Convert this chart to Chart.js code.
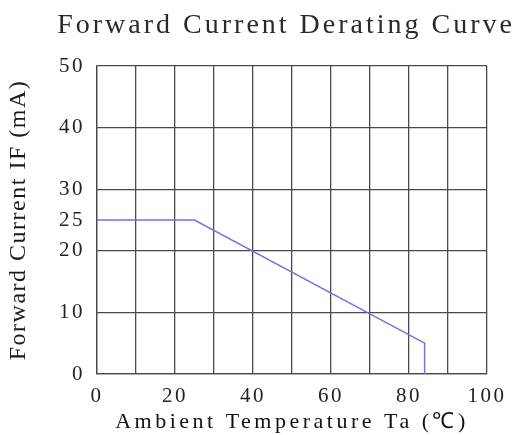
<!DOCTYPE html>
<html>
<head>
<meta charset="utf-8">
<script src="https://cdn.jsdelivr.net/npm/chart.js@4/dist/chart.umd.min.js"></script>
<style>
html,body{margin:0;padding:0;background:#fff;}
canvas{display:block;}
</style>
</head>
<body>
<canvas id="c" width="522" height="435"></canvas>
<script>
const temperatureC = [0, 25, 84, 84];
const currentMA = [25, 25, 5, 0];
const yTickValues = [0, 10, 20, 25, 30, 40, 50];
const xLabelValues = [0, 20, 40, 60, 80, 100];

const spacingPlugin = {
  id: 'spacing',
  beforeLayout(chart) { chart.ctx.letterSpacing = '2.5px'; },
  beforeDraw(chart) { chart.ctx.letterSpacing = '2.5px'; }
};

const serif = "'Liberation Serif', 'Times New Roman', serif";

const chart = new Chart(document.getElementById('c'), {
  type: 'line',
  data: {
    datasets: [{
      data: temperatureC.map((t, i) => ({ x: t, y: currentMA[i] })),
      borderColor: '#7272e0',
      borderWidth: 1.5,
      pointRadius: 0,
      tension: 0,
      fill: false
    }]
  },
  plugins: [spacingPlugin],
  options: {
    responsive: false,
    animation: false,
    devicePixelRatio: 1,
    layout: { padding: { left: 0, right: 7, top: 0, bottom: 0 } },
    plugins: {
      legend: { display: false },
      tooltip: { enabled: false },
      title: {
        display: true,
        text: 'Forward Current Derating Curve',
        align: 'end',
        color: '#2a2a2a',
        font: { family: serif, size: 28, weight: 'normal', lineHeight: 1.2 },
        padding: { top: 9, bottom: 23.4 }
      }
    },
    scales: {
      x: {
        type: 'linear',
        min: 0, max: 100,
        afterFit(s) { s.height = 61; },
        grid: { color: '#4a4a4a', lineWidth: 1.3, drawTicks: false },
        border: { color: '#4a4a4a', width: 1.3 },
        ticks: {
          stepSize: 10, autoSkip: false, maxRotation: 0,
          padding: 10, color: '#222',
          font: { family: serif, size: 21 },
          callback: v => xLabelValues.includes(v) ? String(v) : ''
        },
        title: {
          display: true,
          text: 'Ambient Temperature Ta (℃)',
          color: '#111',
          font: { family: serif, size: 22 },
          padding: { top: 0, bottom: 0 }
        }
      },
      y: {
        type: 'linear',
        min: 0, max: 50,
        afterFit(s) { s.width = 97; },
        afterBuildTicks(s) { s.ticks = yTickValues.map(v => ({ value: v })); },
        grid: {
          color: c => (c.tick && c.tick.value === 25) ? 'rgba(0,0,0,0)' : '#4a4a4a',
          lineWidth: 1.3, drawTicks: false
        },
        border: { color: '#4a4a4a', width: 1.3 },
        ticks: {
          padding: 12, color: '#222',
          font: { family: serif, size: 21 }
        },
        title: {
          display: true,
          text: 'Forward Current IF (mA)',
          color: '#1a1a1a',
          font: { family: serif, size: 24, lineHeight: 1.2 },
          padding: { top: 4, bottom: 0 }
        }
      },
      y2: {
        type: 'linear',
        position: 'right',
        min: 0, max: 50,
        afterFit(s) { s.width = 28; },
        grid: { display: false, drawTicks: false },
        border: { display: false },
        ticks: { display: false }
      }
    }
  }
});

function withSpacing(obj, method, spacing) {
  const orig = obj[method].bind(obj);
  obj[method] = function (...args) {
    const ctx = chart.ctx;
    const prev = ctx.letterSpacing;
    ctx.letterSpacing = spacing;
    const r = orig(...args);
    ctx.letterSpacing = prev;
    return r;
  };
}
withSpacing(chart.titleBlock, 'draw', '3px');
withSpacing(chart.scales.x, 'drawTitle', '3.5px');
withSpacing(chart.scales.y, 'drawTitle', '1.5px');
chart.draw();
</script>
</body>
</html>
